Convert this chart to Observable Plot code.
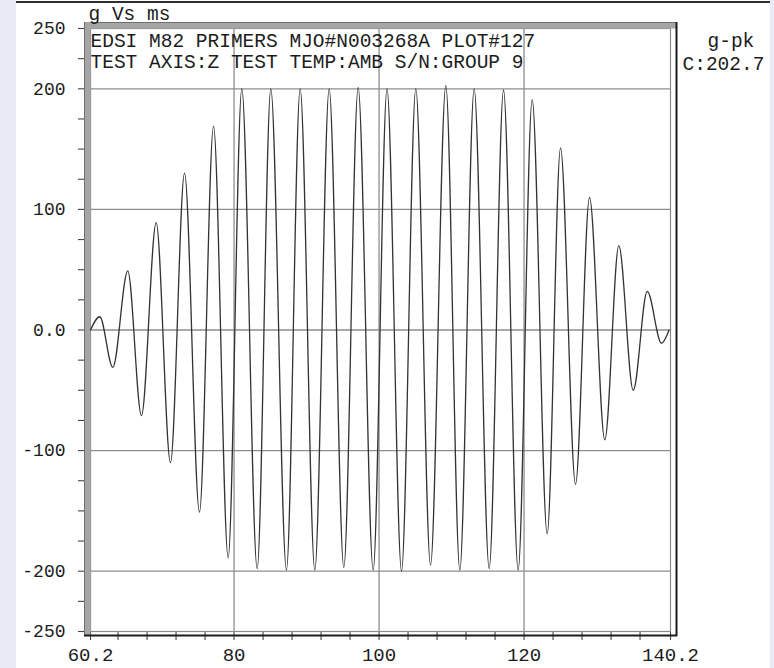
<!DOCTYPE html>
<html><head><meta charset="utf-8">
<script src="https://cdn.jsdelivr.net/npm/d3@7"></script>
<script src="https://cdn.jsdelivr.net/npm/@observablehq/plot@0.6"></script>
<style>
html,body{margin:0;padding:0;background:#e8ebf6;}
#chart{width:774px;height:668px;}
#chart svg{display:block;max-width:none !important;background:
 linear-gradient(#2e2e2e,#2e2e2e) 16px 1px/754px 2px no-repeat,
 linear-gradient(to right,#e8ebf6 16px,#ffffff 16px,#ffffff 770px,#e8ebf6 770px) !important;}
</style></head><body><div id="chart"></div>
<script>
const timeMs = [60.2, 61.48, 63.28, 65.34, 67.23, 69.26, 71.23, 73.17, 75.23, 77.17,
  79.19, 81.07, 83.19, 85.07, 87.23, 89.12, 91.14, 93.12, 95.14, 97.12,
  99.19, 101.1, 103.10, 105.07, 107.10, 109.21, 111.14, 113.12, 115.19, 117.17,
  119.19, 121.12, 123.19, 125.03, 127.10, 129.03, 131.14, 133.07, 135.06, 136.99,
  138.96, 140.0];
const accelG = [0, 11, -31, 49, -71, 89, -110, 130, -151, 169,
  -189, 200, -198, 200, -199, 200, -199, 200, -197, 201,
  -199, 200, -200, 200, -195, 202.7, -199, 200, -198, 199,
  -199, 191, -169, 151, -128, 110, -91, 70, -50, 32,
  -11, 0];

const xTickValues = [60.2, 64, 68, 72, 76, 80, 84, 88, 92, 96, 100, 104, 108, 112, 116, 120, 124, 128, 132, 136, 140.2];
const xTickLabels = [60.2, 80, 100, 120, 140.2];
const xGrid = [80, 100, 120];
const yTickValues = [-250, -225, -200, -175, -150, -125, -100, -75, -50, -25, 0, 25, 50, 75, 100, 125, 150, 175, 200, 225, 250];
const yTickLabels = [250, 200, 100, 0, -100, -200, -250];
const yGrid = [200, 100, 0, -100, -200];

const titleTop = "g Vs ms";
const titleLine1 = "EDSI M82 PRIMERS MJO#N003268A PLOT#127";
const titleLine2 = "TEST AXIS:Z TEST TEMP:AMB S/N:GROUP 9";
const peakLabel = "g-pk";
const peakValue = "C:202.7";

const data = timeMs.map((t, i) => ({t, g: accelG[i]}));
const mono = "'Liberation Mono', 'DejaVu Sans Mono', monospace";
const ink = "#1c1c1c";

const chart = Plot.plot({
  width: 774, height: 668,
  marginLeft: 90, marginRight: 104, marginTop: 28, marginBottom: 37,
  x: {domain: [60.2, 140.2]},
  y: {domain: [-250, 250]},
  style: {fontFamily: mono, color: ink},
  marks: [
    Plot.ruleX(xGrid, {stroke: "#8e8e8e", strokeWidth: 1.3}),
    Plot.ruleY(yGrid, {stroke: "#8e8e8e", strokeWidth: 1.3}),
    Plot.axisY({ticks: yTickValues, tickSize: 12, tickPadding: 13, fontSize: 18, label: null,
      stroke: "#444", strokeWidth: 1.1,
      tickFormat: d => yTickLabels.includes(d) ? (d === 0 ? "0.0" : String(d)) : ""}),
    Plot.axisX({ticks: xTickValues, tickSize: 9, tickPadding: 7, fontSize: 19, label: null,
      stroke: "#444", strokeWidth: 1.1,
      tickFormat: d => xTickLabels.includes(d) ? String(d) : ""}),
    Plot.frame({stroke: "#8a8a8a", strokeWidth: 1.2}),
    Plot.ruleY([250], {stroke: "#a6a6a6", strokeWidth: 6, dy: -3, insetLeft: -6, insetRight: -7}),
    Plot.ruleY([250], {stroke: "#6e6e6e", strokeWidth: 1, dy: -6, insetLeft: -6, insetRight: -7}),
    Plot.ruleX([60.2], {stroke: "#a6a6a6", strokeWidth: 6, dx: -3, insetTop: -6, insetBottom: -5}),
    Plot.ruleX([60.2], {stroke: "#6e6e6e", strokeWidth: 1, dx: -6, insetTop: -6, insetBottom: -5}),
    Plot.ruleX([140.2], {stroke: ink, strokeWidth: 2, dx: 6, insetTop: -6, insetBottom: -5}),
    Plot.ruleY([-250], {stroke: ink, strokeWidth: 2, dy: 4, insetLeft: -6, insetRight: -7}),
    Plot.line(data, {x: "t", y: "g", curve: "monotone-x", stroke: "#333", strokeWidth: 1.3}),
    Plot.text([titleTop], {text: d => d, frameAnchor: "top-left", textAnchor: "start", lineAnchor: "bottom",
      dx: -2, dy: -9, fontSize: 19.5, fill: ink}),
    Plot.text([titleLine1], {text: d => d, frameAnchor: "top-left", textAnchor: "start", lineAnchor: "bottom",
      dx: 0, dy: 18, fontSize: 19.5, fill: ink}),
    Plot.text([titleLine2], {text: d => d, frameAnchor: "top-left", textAnchor: "start", lineAnchor: "bottom",
      dx: 0, dy: 39, fontSize: 19.5, fill: ink}),
    Plot.text([peakLabel], {text: d => d, frameAnchor: "top-right", textAnchor: "start", lineAnchor: "bottom",
      dx: 37, dy: 18.5, fontSize: 19.5, fill: ink}),
    Plot.text([peakValue], {text: d => d, frameAnchor: "top-right", textAnchor: "start", lineAnchor: "bottom",
      dx: 12, dy: 41, fontSize: 19.5, fill: ink})
  ]
});
document.getElementById("chart").append(chart);
</script>
</body></html>
